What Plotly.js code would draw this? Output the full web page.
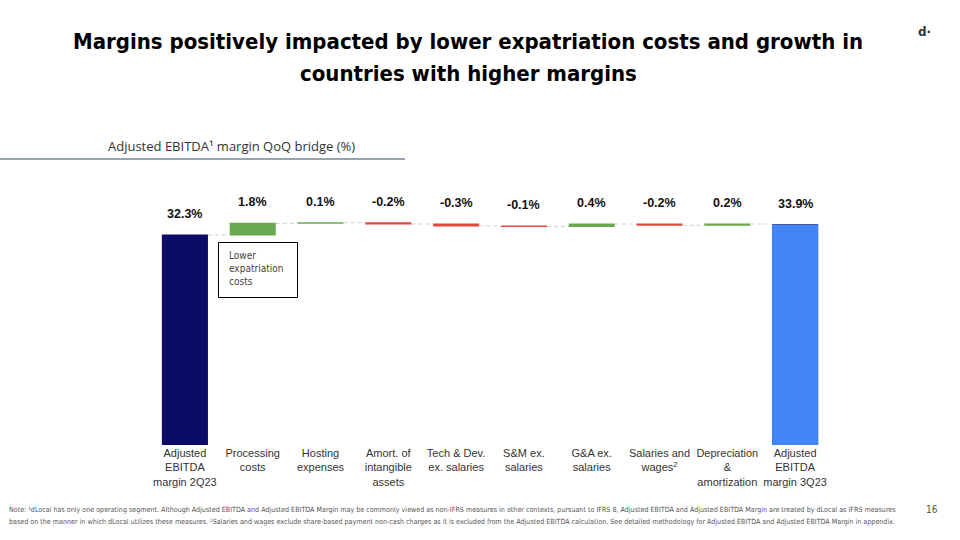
<!DOCTYPE html>
<html><head><meta charset="utf-8">
<script src="https://cdn.plot.ly/plotly-3.0.1.min.js"></script>
<style>html,body{margin:0;padding:0;background:#fff}#chart{width:960px;height:540px}</style>
</head><body><div id="chart"></div>
<script>
// ---- data ----
const categories = ["Adjusted<br>EBITDA<br>margin 2Q23", "Processing<br>costs", "Hosting<br>expenses", "Amort. of<br>intangible<br>assets", "Tech & Dev.<br>ex. salaries", "S&M ex.<br>salaries", "G&A ex.<br>salaries", "Salaries and<br>wages<sup>2</sup>", "Depreciation<br>&<br>amortization", "Adjusted<br>EBITDA<br>margin 3Q23"];
const measures = ["absolute", "relative", "relative", "relative", "relative", "relative", "relative", "relative", "relative", "absolute"];
const values = [32.3, 1.8, 0.1, -0.2, -0.3, -0.1, 0.4, -0.2, 0.2, 33.9];
const valueLabels = ["32.3%", "1.8%", "0.1%", "-0.2%", "-0.3%", "-0.1%", "0.4%", "-0.2%", "0.2%", "33.9%"];
const titleLine1 = "Margins positively impacted by lower expatriation costs and growth in";
const titleLine2 = "countries with higher margins";
const noteLine1 = "Note: \u00b9dLocal has only one operating segment. Although Adjusted EBITDA and Adjusted EBITDA Margin may be commonly viewed as non-IFRS measures in other contexts, pursuant to IFRS 8, Adjusted EBITDA and Adjusted EBITDA Margin are treated by dLocal as IFRS measures";
const noteLine2 = "based on the manner in which dLocal utilizes these measures. \u00b2Salaries and wages exclude share-based payment non-cash charges as it is excluded from the Adjusted EBITDA calculation. See detailed methodology for Adjusted EBITDA and Adjusted EBITDA Margin in appendix.";

// ---- layout geometry ----
const W = 960, H = 540;
const L = 151, R = 829, T = 180, B = 445;
const pxX = p => (p - L) / (R - L);
const pxY = p => (B - p) / (B - T);
const yMax = (B - T) / 6.5;

const idx = categories.map((_, i) => i);

const waterfall = {
  type: 'waterfall',
  x: idx, y: values, measure: measures,
  width: 0.68,
  increasing: {marker: {color: '#6AA84F'}},
  decreasing: {marker: {color: '#DD4B3E'}},
  totals: {marker: {color: '#0C0B66'}},
  connector: {mode: 'between', line: {color: '#CFCFCF', width: 1, dash: '4px,3px'}},
  hoverinfo: 'skip', showlegend: false
};
const last = idx.length - 1;
const finalBar = {
  type: 'bar', x: [idx[last]], y: [values[last]], width: 0.68,
  marker: {color: '#4285F4'}, hoverinfo: 'skip', showlegend: false
};

// value labels above the bars
const annotations = [];
let cum = 0;
values.forEach((v, i) => {
  let top;
  if (measures[i] === 'absolute') { cum = v; top = v; }
  else { const prev = cum; cum += v; top = Math.max(prev, cum); }
  annotations.push({
    x: i, y: top, xref: 'x', yref: 'y', yanchor: 'bottom', yshift: 12,
    text: '<b>' + valueLabels[i] + '</b>', showarrow: false,
    font: {family: 'Arial, Liberation Sans, sans-serif', size: 12.5, color: '#111'}
  });
});

const titleFont = {family: 'DejaVu Sans Condensed, sans-serif', size: 22, color: '#000', weight: 'bold'};
// second title line
annotations.push({
  xref: 'paper', yref: 'paper', x: pxX(468), y: pxY(73), xanchor: 'center', yanchor: 'middle',
  text: titleLine2, showarrow: false, font: titleFont
});
// callout text
annotations.push({
  xref: 'paper', yref: 'paper', x: pxX(227), y: pxY(248), xanchor: 'left', yanchor: 'top',
  text: 'Lower<br>expatriation<br>costs', align: 'left', showarrow: false,
  font: {family: 'DejaVu Sans Condensed, DejaVu Sans, sans-serif', size: 10, color: '#444'}
});
// subtitle
annotations.push({
  xref: 'paper', yref: 'paper', x: pxX(231), y: pxY(146), xanchor: 'center', yanchor: 'middle',
  text: 'Adjusted EBITDA\u00b9 margin QoQ bridge (%)', showarrow: false,
  font: {family: 'Open Sans, Noto Sans, sans-serif', size: 13, color: '#333'}
});
// logo
annotations.push({
  xref: 'paper', yref: 'paper', x: pxX(924), y: pxY(32), xanchor: 'center', yanchor: 'middle',
  text: '<b>d\u00b7</b>', showarrow: false,
  font: {family: 'DejaVu Sans, sans-serif', size: 12, color: '#333'}
});
// page number
annotations.push({
  xref: 'paper', yref: 'paper', x: pxX(932), y: pxY(509), xanchor: 'center', yanchor: 'middle',
  text: '16', showarrow: false,
  font: {family: 'DejaVu Sans Condensed, sans-serif', size: 10, color: '#555'}
});
// footnotes
[noteLine1, noteLine2].forEach((t, k) => {
  annotations.push({
    xref: 'paper', yref: 'paper', x: pxX(7), y: pxY(509 + 12 * k), xanchor: 'left', yanchor: 'middle',
    text: t, showarrow: false,
    font: {family: 'DejaVu Sans Condensed, sans-serif', size: 7.1, color: '#555'}
  });
});

const shapes = [
  {type: 'line', xref: 'paper', yref: 'paper', x0: pxX(0), x1: pxX(405), y0: pxY(159), y1: pxY(159),
   line: {color: '#2F4A5E', width: 1}},
  {type: 'rect', xref: 'paper', yref: 'paper', x0: pxX(218.5), x1: pxX(297.5), y0: pxY(242.5), y1: pxY(297.5),
   line: {color: '#000', width: 1}, fillcolor: 'rgba(0,0,0,0)'}
];

const layout = {
  width: W, height: H,
  margin: {l: L, r: W - R, t: T, b: H - B},
  paper_bgcolor: '#fff', plot_bgcolor: '#fff',
  showlegend: false, barmode: 'overlay',
  title: {
    text: titleLine1,
    xref: 'container', yref: 'container', x: 468 / W, xanchor: 'center', y: 1 - 41 / H, yanchor: 'middle',
    font: titleFont
  },
  xaxis: {
    range: [-0.5, last + 0.5], tickvals: idx, ticktext: categories,
    showgrid: false, zeroline: false, showline: false, ticks: '',
    tickfont: {family: 'Arial, Liberation Sans, sans-serif', size: 11, color: '#333'}, fixedrange: true
  },
  yaxis: {range: [0, yMax], visible: false, fixedrange: true},
  annotations, shapes
};

Plotly.newPlot('chart', [waterfall, finalBar], layout, {displayModeBar: false, staticPlot: true});
</script>
</body></html>
